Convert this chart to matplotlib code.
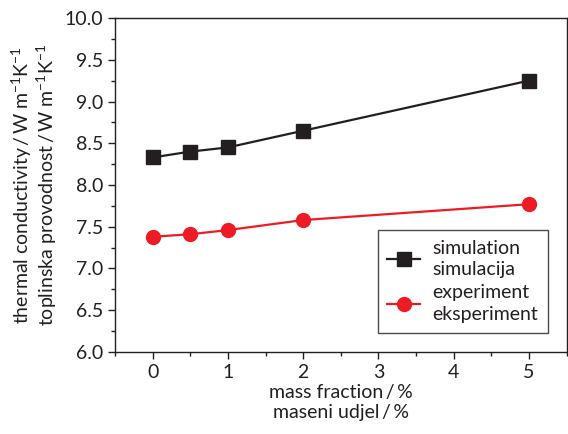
import numpy as np
import matplotlib.pyplot as plt
from matplotlib.ticker import MultipleLocator

plt.rcParams['font.family'] = ['Lato', 'DejaVu Sans']
plt.rcParams['mathtext.fontset'] = 'custom'
plt.rcParams['mathtext.rm'] = 'Lato'

# data
mass_fraction = [0, 0.5, 1, 2, 5]
simulation = [8.33, 8.40, 8.45, 8.65, 9.25]
experiment = [7.38, 7.41, 7.46, 7.58, 7.77]

text_col = "#231f20"

fig = plt.figure(figsize=(5.68, 4.34), dpi=100)
ax = fig.add_axes([0.2025, 0.189, 0.795, 0.7695])

ax.plot(mass_fraction, simulation, color="#231f20", lw=1.6, marker="s", ms=10,
        label="simulation\nsimulacija")
ax.plot(mass_fraction, experiment, color="#ed1c24", lw=1.6, marker="o", ms=10,
        label="experiment\neksperiment")

ax.set_xlim(-0.5, 5.5)
ax.set_ylim(6.0, 10.0)
ax.xaxis.set_major_locator(MultipleLocator(1))
ax.xaxis.set_minor_locator(MultipleLocator(0.5))
ax.yaxis.set_major_locator(MultipleLocator(0.5))
ax.yaxis.set_minor_locator(MultipleLocator(0.25))
ax.yaxis.set_major_formatter(plt.FormatStrFormatter("%.1f"))

ax.tick_params(which="major", direction="out", length=5, width=1, labelsize=14,
               colors=text_col)
ax.tick_params(which="minor", direction="out", length=3, width=1, colors=text_col)
for s in ax.spines.values():
    s.set_color(text_col)
    s.set_linewidth(1)

ax.set_xlabel("mass fraction\u2009/\u2009%\nmaseni udjel\u2009/\u2009%", fontsize=14,
              color=text_col, linespacing=1.25, labelpad=2)
ax.set_ylabel("thermal conductivity\u2009/\u2009W m$^{-1}$K$^{-1}$\n"
              "toplinska provodnost\u2009/\u2009W m$^{-1}$K$^{-1}$",
              fontsize=14, color=text_col, linespacing=1.0, labelpad=4)

leg = ax.legend(loc="lower right", bbox_to_anchor=(0.958, 0.057), fontsize=14,
                frameon=True, fancybox=False, edgecolor=text_col,
                handlelength=1.7, handletextpad=0.6, borderpad=0.5,
                labelspacing=0.3, borderaxespad=0)
leg.get_frame().set_linewidth(1)
for t in leg.get_texts():
    t.set_color(text_col)
    t.set_linespacing(1.35)

fig.savefig("out.png", dpi=100)
